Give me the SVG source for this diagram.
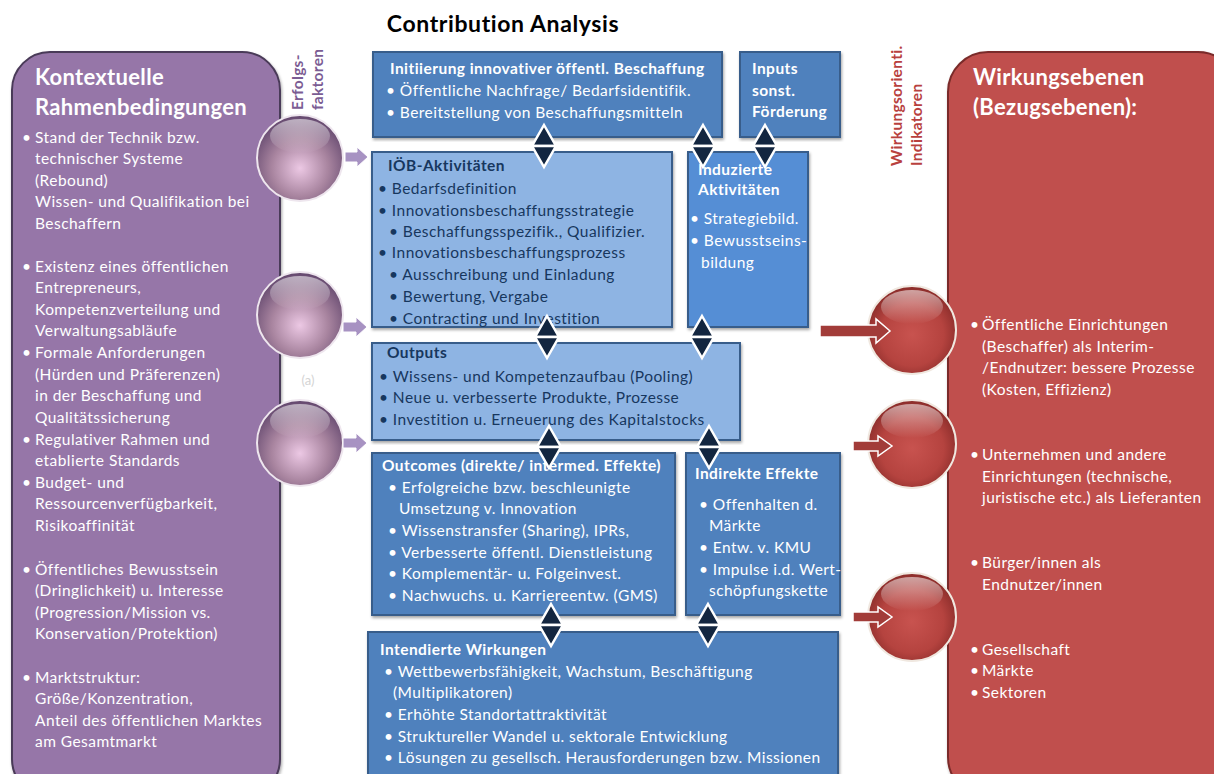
<svg xmlns="http://www.w3.org/2000/svg" width="1214" height="774" viewBox="0 0 1214 774">
<style>
text{font-family:Lato,"Open Sans","Liberation Sans",sans-serif;}
.t{font-size:15.5px;letter-spacing:0.45px;fill:#fff;}
.d{font-size:15.5px;letter-spacing:0.45px;fill:#17375e;}
.b{font-weight:bold;}
.h{font-size:22px;letter-spacing:0.3px;font-weight:bold;fill:#fff;}
.box{fill:#4f81bd;stroke:#385d8a;stroke-width:2;}
.lt{fill:#8eb4e3;stroke:#385d8a;stroke-width:2;}
.md{fill:#558ed5;stroke:#385d8a;stroke-width:2;}
.dia{fill:#132640;stroke:#fff;stroke-width:2.5;stroke-linejoin:miter;}
.pa{fill:#a792c2;stroke:#fff;stroke-width:1;}
.ra{fill:#a23c39;stroke:#fff;stroke-width:1.5;}
</style>
<defs>
<radialGradient id="gp" cx="0.5" cy="0.62" r="0.6">
<stop offset="0" stop-color="#ecc8e4"/>
<stop offset="0.55" stop-color="#a8849f"/>
<stop offset="1" stop-color="#664a70"/>
</radialGradient>
<radialGradient id="gr" cx="0.5" cy="0.55" r="0.6">
<stop offset="0" stop-color="#c8534f"/>
<stop offset="0.6" stop-color="#b5433f"/>
<stop offset="1" stop-color="#7e2624"/>
</radialGradient>
<linearGradient id="hl" x1="0" y1="0" x2="0" y2="1">
<stop offset="0" stop-color="#fff" stop-opacity="0.55"/>
<stop offset="1" stop-color="#fff" stop-opacity="0"/>
</linearGradient>
<filter id="sh" x="-5%" y="-5%" width="110%" height="110%">
<feDropShadow dx="1" dy="2" stdDeviation="1.5" flood-opacity="0.35"/>
</filter>
<g id="dm"><polygon points="0,-21 12,0 -12,0"/><polygon points="-12,0 12,0 0,21"/></g>
<g id="sp-p"><circle r="43" fill="url(#gp)" stroke="#eee6ee" stroke-width="2"/><ellipse cx="0" cy="-22" rx="30" ry="17" fill="url(#hl)"/></g>
<g id="sp-r"><circle r="44" fill="url(#gr)" stroke="#f0e8e0" stroke-width="2"/><ellipse cx="0" cy="-23" rx="31" ry="17" fill="url(#hl)"/></g>
</defs>

<text x="503" y="32" text-anchor="middle" style="font-size:23px;letter-spacing:0.6px;font-weight:bold;fill:#000">Contribution Analysis</text>

<g id="kontext">
<rect x="12" y="52" width="268" height="745" rx="38" fill="#9676a8" stroke="#4a3a58" stroke-width="2" filter="url(#sh)"/>
<text class="h" x="35" y="85">Kontextuelle</text>
<text class="h" x="35" y="115">Rahmenbedingungen</text>
<g class="t">
<text x="22" y="143">•</text><text x="35" y="143">Stand der Technik bzw.</text>
<text x="35" y="164">technischer Systeme</text>
<text x="35" y="186">(Rebound)</text>
<text x="35" y="207">Wissen- und Qualifikation bei</text>
<text x="35" y="229">Beschaffern</text>
<text x="22" y="272">•</text><text x="35" y="272">Existenz eines öffentlichen</text>
<text x="35" y="293">Entrepreneurs,</text>
<text x="35" y="315">Kompetenzverteilung und</text>
<text x="35" y="336">Verwaltungsabläufe</text>
<text x="22" y="358">•</text><text x="35" y="358">Formale Anforderungen</text>
<text x="35" y="380">(Hürden und Präferenzen)</text>
<text x="35" y="401">in der Beschaffung und</text>
<text x="35" y="423">Qualitätssicherung</text>
<text x="22" y="445">•</text><text x="35" y="445">Regulativer Rahmen und</text>
<text x="35" y="466">etablierte Standards</text>
<text x="22" y="488">•</text><text x="35" y="488">Budget- und</text>
<text x="35" y="509">Ressourcenverfügbarkeit,</text>
<text x="35" y="531">Risikoaffinität</text>
<text x="22" y="575">•</text><text x="35" y="575">Öffentliches Bewusstsein</text>
<text x="35" y="596">(Dringlichkeit) u. Interesse</text>
<text x="35" y="618">(Progression/Mission vs.</text>
<text x="35" y="639">Konservation/Protektion)</text>
<text x="22" y="683">•</text><text x="35" y="683">Marktstruktur:</text>
<text x="35" y="704">Größe/Konzentration,</text>
<text x="35" y="726">Anteil des öffentlichen Marktes</text>
<text x="35" y="747">am Gesamtmarkt</text>
</g>
</g>

<g id="erfolgsfaktoren-label" style="font-size:15.5px;letter-spacing:0.3px;font-weight:bold;fill:#7b5c93">
<text transform="translate(303,110) rotate(-90)">Erfolgs-</text>
<text transform="translate(323,110) rotate(-90)">faktoren</text>
</g>
<text x="308" y="385" text-anchor="middle" style="font-size:13px;fill:#d4d4d4">(a)</text>

<g id="sphere-p1"><use href="#sp-p" x="300" y="158"/></g>
<g id="sphere-p2"><use href="#sp-p" x="300" y="315"/></g>
<g id="sphere-p3"><use href="#sp-p" x="300" y="443"/></g>

<g id="initiierung">
<rect class="box" x="373" y="52" width="349" height="85" filter="url(#sh)"/>
<text class="t b" x="390" y="74">Initiierung innovativer öffentl. Beschaffung</text>
<text class="t" x="386" y="96">• Öffentliche Nachfrage/ Bedarfsidentifik.</text>
<text class="t" x="386" y="118">• Bereitstellung von Beschaffungsmitteln</text>
</g>
<g id="inputs">
<rect class="box" x="740" y="52" width="100" height="85" filter="url(#sh)"/>
<text class="t b" x="752" y="74">Inputs</text>
<text class="t b" x="752" y="96">sonst.</text>
<text class="t b" x="752" y="117">Förderung</text>
</g>
<g id="ioeb">
<rect class="lt" x="372" y="152" width="300" height="175" filter="url(#sh)"/>
<text class="d b" x="388" y="171">IÖB-Aktivitäten</text>
<g class="d" xml:space="preserve">
<text x="378" y="194">• Bedarfsdefinition</text>
<text x="378" y="216">• Innovationsbeschaffungsstrategie</text>
<text x="389" y="237">• Beschaffungsspezifik., Qualifizier.</text>
<text x="378" y="258">• Innovationsbeschaffungsprozess</text>
<text x="389" y="280">• Ausschreibung und Einladung</text>
<text x="389" y="302">• Bewertung, Vergabe</text>
<text x="389" y="324">• Contracting  und       Investition</text>
</g>
</g>
<g id="induzierte">
<rect class="md" x="688" y="152" width="120" height="175" filter="url(#sh)"/>
<text class="t b" x="698" y="175">Induzierte</text>
<text class="t b" x="698" y="195">Aktivitäten</text>
<text class="t" x="690" y="224">• Strategiebild.</text>
<text class="t" x="690" y="246">• Bewusstseins-</text>
<text class="t" x="701" y="268">bildung</text>
</g>
<g id="outputs">
<rect class="lt" x="372" y="343" width="368" height="97" filter="url(#sh)"/>
<text class="d b" x="387" y="358">Outputs</text>
<text class="d" x="379" y="382">• Wissens- und Kompetenzaufbau (Pooling)</text>
<text class="d" x="379" y="403">• Neue u. verbesserte Produkte, Prozesse</text>
<text class="d" x="379" y="425">• Investition u. Erneuerung des Kapitalstocks</text>
</g>
<g id="outcomes">
<rect class="box" x="372" y="453" width="303" height="162" filter="url(#sh)"/>
<text class="t b" x="382" y="471">Outcomes (direkte/ intermed. Effekte)</text>
<g class="t" xml:space="preserve">
<text x="388" y="493">• Erfolgreiche bzw. beschleunigte</text>
<text x="399" y="514">Umsetzung v. Innovation</text>
<text x="388" y="536">• Wissenstransfer (Sharing), IPRs,</text>
<text x="388" y="558">• Verbesserte  öffentl. Dienstleistung</text>
<text x="388" y="579">• Komplementär- u. Folgeinvest.</text>
<text x="388" y="601">• Nachwuchs. u. Karriereentw. (GMS)</text>
</g>
</g>
<g id="indirekte">
<rect class="box" x="686" y="453" width="154" height="162" filter="url(#sh)"/>
<text class="t b" x="695" y="479">Indirekte Effekte</text>
<text class="t" x="699" y="510">• Offenhalten d.</text>
<text class="t" x="709" y="531">Märkte</text>
<text class="t" x="699" y="553">• Entw. v. KMU</text>
<text class="t" x="699" y="575">• Impulse i.d. Wert-</text>
<text class="t" x="709" y="596">schöpfungskette</text>
</g>
<g id="intendierte">
<rect class="box" x="368" y="632" width="470" height="160" filter="url(#sh)"/>
<text class="t b" x="380" y="655">Intendierte Wirkungen</text>
<text class="t" x="384" y="677">• Wettbewerbsfähigkeit, Wachstum, Beschäftigung</text>
<text class="t" x="393" y="698">(Multiplikatoren)</text>
<text class="t" x="384" y="720">• Erhöhte Standortattraktivität</text>
<text class="t" x="384" y="742">• Struktureller Wandel u. sektorale Entwicklung</text>
<text class="t" x="384" y="763">• Lösungen zu gesellsch. Herausforderungen bzw. Missionen</text>
</g>

<g id="wirkungsebenen">
<rect x="948" y="52" width="290" height="745" rx="40" fill="#c0504d" stroke="#7a2c2a" stroke-width="2" filter="url(#sh)"/>
<text class="h" x="973" y="85">Wirkungsebenen</text>
<text class="h" x="973" y="115">(Bezugsebenen):</text>
<g class="t">
<text x="970" y="330">•</text><text x="982" y="330">Öffentliche Einrichtungen</text>
<text x="982" y="352">(Beschaffer) als Interim-</text>
<text x="982" y="373">/Endnutzer: bessere Prozesse</text>
<text x="982" y="395">(Kosten, Effizienz)</text>
<text x="970" y="460">•</text><text x="982" y="460">Unternehmen und andere</text>
<text x="982" y="482">Einrichtungen (technische,</text>
<text x="982" y="503">juristische etc.) als Lieferanten</text>
<text x="970" y="568">•</text><text x="982" y="568">Bürger/innen als</text>
<text x="982" y="590">Endnutzer/innen</text>
<text x="970" y="655">•</text><text x="982" y="655">Gesellschaft</text>
<text x="970" y="676">•</text><text x="982" y="676">Märkte</text>
<text x="970" y="698">•</text><text x="982" y="698">Sektoren</text>
</g>
</g>

<g id="indikatoren-label" style="font-size:15.5px;letter-spacing:0.3px;font-weight:bold;fill:#b8413e">
<text transform="translate(902,166) rotate(-90)">Wirkungsorienti.</text>
<text transform="translate(922,166) rotate(-90)">Indikatoren</text>
</g>

<g id="sphere-r1"><use href="#sp-r" x="912" y="330"/></g>
<g id="sphere-r2"><use href="#sp-r" x="912" y="444"/></g>
<g id="sphere-r3"><use href="#sp-r" x="912" y="617"/></g>

<g id="connectors">
<polygon class="pa" points="345,152 357,152 357,147 368,157 357,167 357,162 345,162"/>
<polygon class="pa" points="343,322 356,322 356,317 367,327 356,337 356,332 343,332"/>
<polygon class="pa" points="343,438 356,438 356,433 367,443 356,453 356,448 343,448"/>
<polygon class="ra" points="820,325 876,325 876,319 890,331 876,343 876,337 820,337"/>
<polygon class="ra" points="853,441 878,441 878,436 892,446 878,456 878,451 853,451"/>
<polygon class="ra" points="853,612 878,612 878,607 892,617 878,627 878,622 853,622"/>
<g class="dia">
<use href="#dm" x="544" y="146"/>
<use href="#dm" x="703" y="146"/>
<use href="#dm" x="765" y="146"/>
<use href="#dm" x="547" y="337"/>
<use href="#dm" x="702" y="337"/>
<use href="#dm" x="549" y="447"/>
<use href="#dm" x="709" y="447"/>
<use href="#dm" x="551" y="625"/>
<use href="#dm" x="708" y="625"/>
</g>
</g>
</svg>
